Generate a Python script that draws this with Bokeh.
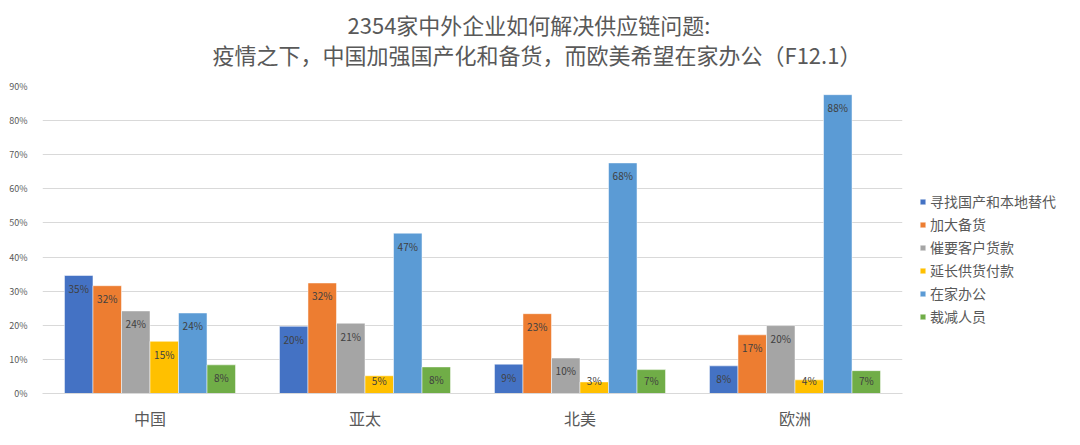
from bokeh.plotting import figure
from bokeh.models import (FactorRange, Range1d, FixedTicker, PrintfTickFormatter,
                          Legend, LegendItem, ColumnDataSource, Title)
from bokeh.transform import dodge
from bokeh.core.properties import value
from bokeh.embed import file_html
from bokeh.resources import INLINE

# ---- data ----
regions = ["中国", "亚太", "北美", "欧洲"]
series_names = ["寻找国产和本地替代", "加大备货", "催要客户货款", "延长供货付款", "在家办公", "裁减人员"]
colors = ["#4472C4", "#ED7D31", "#A5A5A5", "#FFC000", "#5B9BD5", "#70AD47"]
find_local = [34.6, 19.7, 8.6, 8.1]
stockpile = [31.6, 32.4, 23.4, 17.2]
collect_payment = [24.2, 20.6, 10.4, 19.9]
extend_payment = [15.3, 5.2, 3.4, 4.0]
work_from_home = [23.6, 47.0, 67.6, 87.6]
layoffs = [8.4, 7.8, 7.0, 6.7]
y_ticks = [0, 10, 20, 30, 40, 50, 60, 70, 80, 90]
title_line1 = "2354家中外企业如何解决供应链问题:"
title_line2 = "疫情之下，中国加强国产化和备货，而欧美希望在家办公（F12.1）"

series_values = [find_local, stockpile, collect_payment, extend_payment, work_from_home, layoffs]

FONT = "Noto Sans CJK SC"
TXT = "#595959"

p = figure(frame_width=860, frame_height=307,
           x_range=FactorRange(factors=regions, range_padding=0, factor_padding=0),
           y_range=Range1d(0, 90),
           output_backend="svg", toolbar_location=None,
           min_border_left=42, min_border_right=162,
           min_border_bottom=36, min_border_top=86)

p.outline_line_color = None
p.background_fill_color = "white"

bar_w = 0.1326
items = []
for i, (name, vals, col) in enumerate(zip(series_names, series_values, colors)):
    labels = [f"{int(v + 0.5)}%" for v in vals]
    label_y = [max(v - 3.8, 3.9) for v in vals]
    src = ColumnDataSource(dict(x=regions, top=vals, lab=labels, ly=label_y))
    off = (i - 2.5) * bar_w
    r = p.vbar(x=dodge("x", off, range=p.x_range), top="top", width=bar_w, source=src,
               fill_color=col, line_color="white", line_alpha=0.5, line_width=1)
    p.text(x=dodge("x", off, range=p.x_range), y="ly", text="lab", source=src,
           text_align="center", text_baseline="middle",
           text_font=value(FONT), text_font_size="10px", text_color="#404040")
    items.append(LegendItem(label=name, renderers=[r]))

# legend in the right panel; a blank, tiny title + standoff pushes the items down
legend = Legend(items=items, location="top_left", padding=17, margin=0,
                spacing=3, glyph_width=7, glyph_height=7, label_height=20,
                label_standoff=4, label_text_font=FONT, label_text_font_size="14px",
                label_text_color=TXT, border_line_alpha=0, background_fill_alpha=0,
                title=" ", title_text_font_size="10px", title_standoff=77)
p.add_layout(legend, "right")

# axes
p.yaxis.ticker = FixedTicker(ticks=y_ticks)
p.yaxis.formatter = PrintfTickFormatter(format="%d%%")
p.yaxis.axis_line_color = None
p.yaxis.major_tick_line_color = None
p.yaxis.minor_tick_line_color = None
p.yaxis.major_label_text_font = FONT
p.yaxis.major_label_text_font_size = "9px"
p.yaxis.major_label_text_color = TXT
p.yaxis.major_label_standoff = 9

p.xaxis.axis_line_color = "#D9D9D9"
p.xaxis.axis_line_width = 1
p.xaxis.major_tick_line_color = None
p.xaxis.minor_tick_line_color = None
p.xaxis.major_label_text_font = FONT
p.xaxis.major_label_text_font_size = "16px"
p.xaxis.major_label_text_color = TXT
p.xaxis.major_label_standoff = 6

p.xgrid.grid_line_color = None
p.ygrid.grid_line_color = "#D9D9D9"
p.ygrid.grid_line_width = 1

# title (two lines), left aligned with offsets so each line is centred as in the original
# order in the "above" panel: spacer (next to frame), line 2, then p.title (line 1)
spacer = Title(text=" ", text_font_size="1px", standoff=14)
p.add_layout(spacer, "above")
t2 = Title(text=title_line2, align="left", offset=170, text_font=FONT,
           text_font_size="22px", text_font_style="normal", text_color=TXT,
           text_line_height=0.8, standoff=0)
p.add_layout(t2, "above")

p.title.text = title_line1
p.title.align = "left"
p.title.offset = 305
p.title.text_font = FONT
p.title.text_font_size = "22px"
p.title.text_font_style = "normal"
p.title.text_color = TXT
p.title.text_line_height = 0.8
p.title.standoff = -8

open("out.html", "w").write(file_html(p, INLINE))
